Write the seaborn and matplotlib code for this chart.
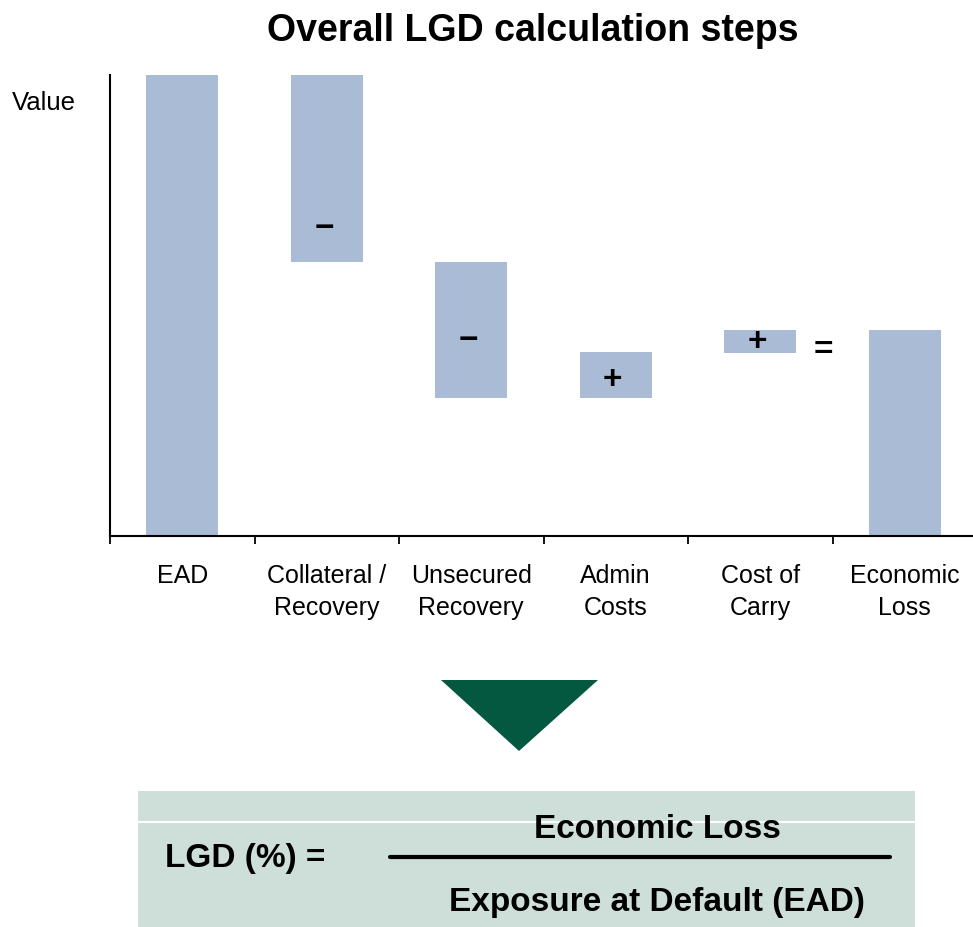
import matplotlib
matplotlib.use("Agg")
import matplotlib.pyplot as plt
from matplotlib import font_manager
from matplotlib.patches import Rectangle, Polygon
from matplotlib.lines import Line2D
import seaborn as sns

# Waterfall steps (values scaled so EAD = 100)
steps = ["EAD", "Collateral /\nRecovery", "Unsecured\nRecovery",
         "Admin\nCosts", "Cost of\nCarry", "Economic\nLoss"]
bar_low = [0, 59.4, 29.9, 29.9, 39.8, 0]
bar_high = [100, 100, 59.4, 39.9, 44.7, 44.7]
signs = ["", "\u2212", "\u2212", "+", "+", ""]
sign_y = [0, 66.6, 42.4, 33.7, 41.9, 0]
equals_y = 40.3

BAR_COLOR = "#aabbd6"
GREEN = "#03583f"
BOX_COLOR = "#cddfd8"

sns.set_theme(style="white")
plt.rcParams["font.family"] = ["Liberation Sans", "DejaVu Sans"]
plt.rcParams["text.color"] = "black"
plt.rcParams["axes.labelcolor"] = "black"

# pick a narrow face for the formula if it is around
try:
    font_manager.findfont("Liberation Sans Narrow", fallback_to_default=False)
    formula_family = ["Liberation Sans Narrow", "Liberation Sans"]
    formula_size = 28
except ValueError:
    formula_family = ["Liberation Sans", "DejaVu Sans"]
    formula_size = 24

fig = plt.figure(figsize=(9.73, 9.27), dpi=100)
ax = fig.add_axes([110 / 973, 1 - 536 / 927, 867 / 973, 461 / 927])

heights = [h - l for h, l in zip(bar_high, bar_low)]
sns.barplot(x=steps, y=heights, bottom=bar_low, color=BAR_COLOR,
            saturation=1, width=0.5, linewidth=0, edgecolor="none", ax=ax)

for i, s in enumerate(signs):
    if s:
        ax.text(i - 0.02, sign_y[i], s, ha="center", va="center", fontsize=24,
                fontweight="bold", color="black")
ax.text(4.44, equals_y, "=", ha="center", va="center", fontsize=24,
        fontweight="bold", color="black")

ax.set_xlim(-0.5, 5.5)
ax.set_ylim(0, 100)
ax.set_yticks([])
ax.set_ylabel("")
sns.despine(ax=ax, top=True, right=True)
for sp in ["left", "bottom"]:
    ax.spines[sp].set_color("black")
    ax.spines[sp].set_linewidth(1.5)

ax.set_xticks(range(len(steps)))
ax.set_xticklabels(steps, fontsize=18, color="black", linespacing=1.45)
ax.tick_params(axis="x", which="major", length=0, pad=20)
ax.set_xticks([i - 0.5 for i in range(len(steps))], minor=True)
ax.tick_params(axis="x", which="minor", bottom=True, length=6, width=1.3,
               color="black", direction="out")

fig.text(533 / 973, 1 - 31 / 927, "Overall LGD calculation steps",
         ha="center", va="center", fontsize=27, fontweight="bold")
fig.text(12 / 973, 1 - 103 / 927, "Value", ha="left", va="center", fontsize=18.5)

# down arrow
fig.patches.append(Polygon([(441 / 973, 1 - 680 / 927), (598 / 973, 1 - 680 / 927),
                            (519 / 973, 1 - 751 / 927)], closed=True,
                           transform=fig.transFigure, facecolor=GREEN, edgecolor="none"))

# formula box
fig.patches.append(Rectangle((138 / 973, 0), 777 / 973, (927 - 791) / 927,
                             transform=fig.transFigure, facecolor=BOX_COLOR, edgecolor="none"))
fig.lines.append(Line2D([138 / 973, 915 / 973], [1 - 822 / 927] * 2,
                        transform=fig.transFigure, color="white", lw=1.5))
fig.lines.append(Line2D([390 / 973, 890 / 973], [1 - 857 / 927] * 2,
                        transform=fig.transFigure, color="black", lw=3))
fig.text(165 / 973, 1 - 858 / 927, "LGD (%) =", ha="left", va="center",
         fontsize=formula_size, fontweight="bold", family=formula_family)
fig.text(657 / 973, 1 - 830 / 927, "Economic Loss", ha="center", va="center",
         fontsize=formula_size, fontweight="bold", family=formula_family)
fig.text(657 / 973, 1 - 903 / 927, "Exposure at Default (EAD)", ha="center", va="center",
         fontsize=formula_size, fontweight="bold", family=formula_family)

fig.savefig("out.png", dpi=100)
